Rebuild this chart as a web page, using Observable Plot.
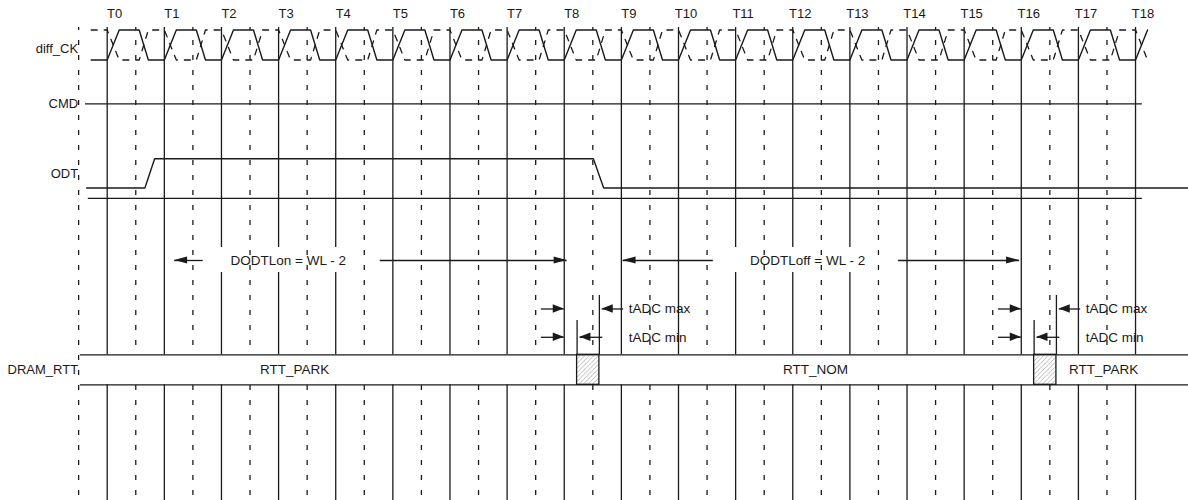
<!DOCTYPE html>
<html><head><meta charset="utf-8">
<script src="https://cdn.jsdelivr.net/npm/d3@7"></script>
<script src="https://cdn.jsdelivr.net/npm/@observablehq/plot@0.6"></script>
<style>body{margin:0;background:#fff} svg{display:block}</style>
</head><body><div id="chart"></div>
<script>
// ---------- data (times in clock cycles) ----------
const tickLabels = ["T0","T1","T2","T3","T4","T5","T6","T7","T8","T9","T10","T11","T12","T13","T14","T15","T16","T17","T18"];
const signalNames = ["diff_CK","CMD","ODT","DRAM_RTT"];
const ckShapePhase = [0, 0.21, 0.56, 0.72];   // one clock period: rise start, rise end, fall start, fall end
const ckShapeLevel = [0, 1, 1, 0];
const ckSpan = [-0.28, 18.21];
const cmdSpan = [-0.38, 18.12];
const odtTimes  = [-0.36, 0.66, 0.83, 8.51, 8.69, 18.93];
const odtLevels = [0, 0, 1, 1, 0, 0];
const odtRefSpan = [-0.33, 18.12];
const rttStates = ["RTT_PARK","RTT_NOM","RTT_PARK"];
const rttChangeAt = [8, 16];
const rttSpan = [-0.47, 18.93];
const rttLabelT = [3.28, 12.4, 17.44];
const tADCmin = 0.225;
const tADCmax = 0.615;
const tADCLabels = ["tADC max","tADC min"];
const dodtLabels = ["DODTLon = WL - 2", "DODTLoff = WL - 2"];
const dodtFrom = [1.18, 9.03];
const dodtTo = [8.05, 15.97];
const dodtLabelT = [3.17, 12.26];
const dodtGapFrom = [1.68, 10.61];
const dodtGapTo = [4.78, 13.85];

// ---------- layout ----------
const W = 1188, H = 500, T0px = 106.7, Tpx = 57.13;
const Y = {top:27, bottom:500, tick:13.3, ckHi:29.5, ckLo:59.5, ckLabel:48.5, cmd:103.3,
  odtHi:158.3, odtLo:187.5, odtRef:197.8, odtLabel:173.7, dodt:260, tmax:308.5, tmin:336.8,
  tmaxTop:295, tminTop:320, rttTop:354.3, rttBot:384.3, rttMid:369.3};
const labelY = [Y.ckLabel, Y.cmd, Y.odtLabel, Y.rttMid];
const INK = "#1a1a1a";
const FONT = "'Liberation Sans', Arial, Helvetica, sans-serif";

// ---------- derived tables ----------
const ticks = tickLabels.map((label, i) => ({label, t: i}));
const halfTicks = [{t: -0.5}, ...tickLabels.slice(0, -1).map((_, i) => ({t: i + 0.5}))];

const ck = [{t: ckSpan[0], v: 0}];
tickLabels.forEach((_, i) => ckShapePhase.forEach((p, j) => {
  const t = i + p; if (t <= ckSpan[1] + 1e-9) ck.push({t, v: ckShapeLevel[j]});
}));
const odt = odtTimes.map((t, i) => ({t, v: odtLevels[i]}));

const hatches = rttChangeAt.map(c => ({x1: c + tADCmin, x2: c + tADCmax}));
const rttText = rttStates.map((s, i) => ({s, t: rttLabelT[i]}));

// arrows
const arrows = [];
dodtLabels.forEach((_, i) => {
  arrows.push({start: dodtGapFrom[i], tip: dodtFrom[i], y: Y.dodt, len: 13, hw: 3.5});
  arrows.push({start: dodtGapTo[i], tip: dodtTo[i], y: Y.dodt, len: 13, hw: 3.5});
});
rttChangeAt.forEach(c => {
  arrows.push({start: c - 0.4, tip: c, y: Y.tmax, len: 11, hw: 4.2});
  arrows.push({start: c - 0.4, tip: c, y: Y.tmin, len: 11, hw: 4.2});
  arrows.push({start: c + 1.04, tip: c + tADCmax + 0.05, y: Y.tmax, len: 11, hw: 4.2});
  arrows.push({start: c + tADCmin + 0.45, tip: c + tADCmin + 0.05, y: Y.tmin, len: 11, hw: 4.2});
});
const heads = arrows.flatMap((a, k) => {
  const dir = Math.sign(a.tip - a.start);
  return [{k, x: a.tip - dir * a.len / Tpx, y1: a.y - a.hw, y2: a.y + a.hw},
          {k, x: a.tip, y1: a.y, y2: a.y}];
});
const tadcVerticals = rttChangeAt.flatMap(c => [
  {t: c + tADCmax, y1: Y.tmaxTop, y2: Y.rttTop},
  {t: c + tADCmin, y1: Y.tminTop, y2: Y.rttTop}
]);
const tadcText = rttChangeAt.flatMap(c => tADCLabels.map((s, i) => ({s, t: c + 1.13, y: i ? Y.tmin : Y.tmax})));

const chart = Plot.plot({
  width: W, height: H, margin: 0,
  x: {domain: [(0 - T0px) / Tpx, (W - T0px) / Tpx], range: [0, W], axis: null},
  y: {domain: [0, H], range: [0, H], axis: null},
  style: {fontFamily: FONT, background: "#fff", color: INK},
  marks: [
    Plot.ruleX(ticks, {x: "t", y1: Y.top, y2: Y.bottom, stroke: INK, strokeWidth: 1.3}),
    Plot.rect(dodtLabels, {x1: (d, i) => dodtGapFrom[i], x2: (d, i) => dodtGapTo[i], y1: Y.dodt - 13, y2: Y.dodt + 12, fill: "#fff"}),
    Plot.ruleX(halfTicks, {x: "t", y1: Y.top, y2: Y.bottom, stroke: INK, strokeWidth: 1.3, strokeDasharray: "5,10", strokeDashoffset: 2}),
    Plot.line(ck, {x: "t", y: d => d.v ? Y.ckHi : Y.ckLo, stroke: INK, strokeWidth: 1.4}),
    Plot.line(ck, {x: "t", y: d => d.v ? Y.ckLo : Y.ckHi, stroke: INK, strokeWidth: 1.3, strokeDasharray: "6,7"}),
    Plot.ruleY([Y.cmd], {x1: cmdSpan[0], x2: cmdSpan[1], stroke: INK, strokeWidth: 1.3}),
    Plot.line(odt, {x: "t", y: d => d.v ? Y.odtHi : Y.odtLo, stroke: INK, strokeWidth: 1.4}),
    Plot.ruleY([Y.odtRef], {x1: odtRefSpan[0], x2: odtRefSpan[1], stroke: INK, strokeWidth: 1.3}),
    Plot.ruleX(tadcVerticals, {x: "t", y1: "y1", y2: "y2", stroke: INK, strokeWidth: 1.3}),
    Plot.ruleY(arrows, {y: "y", x1: "start", x2: "tip", stroke: INK, strokeWidth: 1.3}),
    Plot.area(heads, {x1: "x", y1: "y1", y2: "y2", z: "k", fill: INK}),
    Plot.rect([rttSpan], {x1: d => d[0], x2: d => d[1], y1: Y.rttTop, y2: Y.rttBot, fill: "#fff"}),
    Plot.ruleY([Y.rttTop, Y.rttBot], {x1: rttSpan[0], x2: rttSpan[1], stroke: INK, strokeWidth: 1.3}),
    Plot.rect(hatches, {x1: "x1", x2: "x2", y1: Y.rttTop, y2: Y.rttBot, fill: "url(#hatch)", stroke: INK, strokeWidth: 1.3}),
    Plot.text(ticks, {x: "t", y: Y.tick, text: "label", dx: 7.5, fontSize: 13, fill: INK}),
    Plot.text(signalNames, {x: -0.5, y: (d, i) => labelY[i], text: d => d, textAnchor: "end", dx: -0.5, fontSize: 13, fill: INK}),
    Plot.text(dodtLabels, {x: (d, i) => dodtLabelT[i], y: Y.dodt, text: d => d, fontSize: 13.5, fill: INK}),
    Plot.text(tadcText, {x: "t", y: "y", text: "s", textAnchor: "start", fontSize: 13.5, fill: INK}),
    Plot.text(rttText, {x: "t", y: Y.rttMid, text: "s", fontSize: 13.5, fill: INK})
  ]
});

// hatch pattern definition
const ns = "http://www.w3.org/2000/svg";
const defs = document.createElementNS(ns, "defs");
const pat = document.createElementNS(ns, "pattern");
pat.setAttribute("id", "hatch");
pat.setAttribute("patternUnits", "userSpaceOnUse");
pat.setAttribute("width", "4.5");
pat.setAttribute("height", "4.5");
const p = document.createElementNS(ns, "path");
p.setAttribute("d", "M-1,1 L1,-1 M0,4.5 L4.5,0 M3.5,5.5 L5.5,3.5");
p.setAttribute("stroke", "#8a8a8a");
p.setAttribute("stroke-width", "0.6");
pat.appendChild(p);
defs.appendChild(pat);
chart.insertBefore(defs, chart.firstChild);

document.getElementById("chart").appendChild(chart);
</script>
</body></html>
